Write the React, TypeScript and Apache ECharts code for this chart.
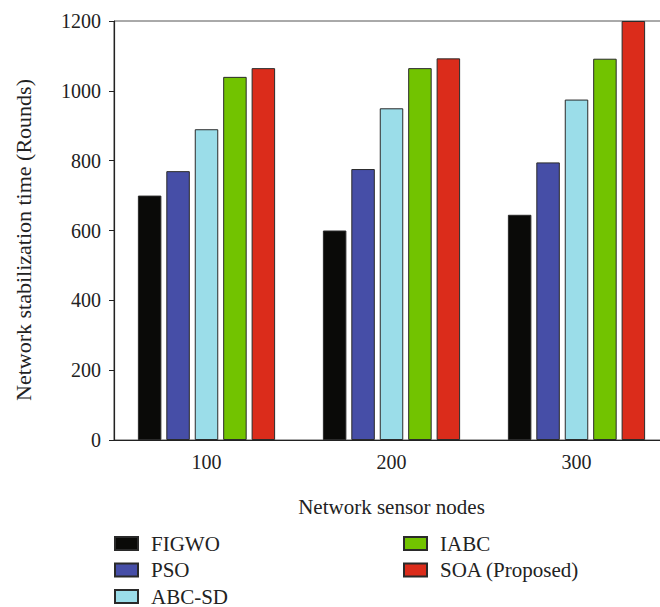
import React, { useEffect, useRef } from "react";
import * as echarts from "echarts";

const categories = ["100", "200", "300"];
const figwo = [700, 600, 645];
const pso = [770, 776, 795];
const abcSd = [890, 950, 975];
const iabc = [1040, 1065, 1092];
const soa = [1065, 1093, 1200];

const seriesNames = ["FIGWO", "PSO", "ABC-SD", "IABC", "SOA (Proposed)"];
const seriesColors = ["#0a0a08", "#464ea7", "#9bdde9", "#72c300", "#db2c1b"];
const seriesValues = [figwo, pso, abcSd, iabc, soa];

const FONT = "'Liberation Serif', 'DejaVu Serif', serif";

// The plot runs past the right edge of the visible frame, so the chart
// canvas is wider than the clipping wrapper.
const CHART_W = 690;
const CHART_H = 607;

export default function App() {
  const ref = useRef<HTMLDivElement>(null);

  useEffect(() => {
    if (!ref.current) return;
    const chart = echarts.init(ref.current, null, { renderer: "svg" });

    const legendBase = {
      orient: "vertical" as const,
      icon: "rect",
      padding: 0,
      itemWidth: 23,
      itemHeight: 13,
      itemGap: 5.5,
      height: 120,
      textStyle: {
        fontFamily: FONT,
        fontSize: 21,
        color: "#222",
        lineHeight: 20,
        padding: [0, 0, 0, 8],
      },
    };

    chart.setOption({
      animation: false,
      backgroundColor: "#ffffff",
      textStyle: { fontFamily: FONT },
      grid: {
        left: 114,
        top: 21,
        right: CHART_W - 669,
        bottom: 167,
        show: true,
        borderColor: "#555",
        borderWidth: 1,
        backgroundColor: "transparent",
      },
      legend: [
        { ...legendBase, left: 114, top: 533, data: seriesNames.slice(0, 3) },
        { ...legendBase, left: 403, top: 533, data: seriesNames.slice(3) },
      ],
      xAxis: {
        type: "category",
        data: categories,
        name: "Network sensor nodes",
        nameLocation: "middle",
        nameGap: 56,
        nameTextStyle: { fontFamily: FONT, fontSize: 21, color: "#222" },
        axisLine: { lineStyle: { color: "#222", width: 1.2 } },
        axisTick: { alignWithLabel: true, length: 5, lineStyle: { color: "#222" } },
        axisLabel: { fontFamily: FONT, fontSize: 20, color: "#222", margin: 12 },
      },
      yAxis: {
        type: "value",
        min: 0,
        max: 1200,
        interval: 200,
        axisLine: { show: true, lineStyle: { color: "#222", width: 1.2 } },
        axisTick: { show: true, length: 5, lineStyle: { color: "#222" } },
        axisLabel: {
          fontFamily: FONT,
          fontSize: 20,
          color: "#222",
          margin: 13,
          formatter: (v: number) => String(v),
        },
        splitLine: { show: false },
      },
      graphic: [
        {
          type: "text",
          x: 23,
          y: 240,
          rotation: Math.PI / 2,
          style: {
            text: "Network stabilization time (Rounds)",
            fontFamily: FONT,
            fontSize: 22,
            fill: "#222",
            align: "center",
            verticalAlign: "middle",
          },
        },
      ],
      series: seriesNames.map((name, i) => ({
        name,
        type: "bar",
        data: seriesValues[i],
        barWidth: 23.5,
        barGap: "21%",
        itemStyle: {
          color: seriesColors[i],
          borderColor: "#2a2a2a",
          borderWidth: 1,
        },
      })),
    });

    return () => chart.dispose();
  }, []);

  return (
    <div
      style={{
        position: "fixed",
        left: 0,
        top: 0,
        width: 660,
        height: 607,
        overflow: "hidden",
        background: "#fff",
      }}
    >
      <div ref={ref} style={{ width: CHART_W, height: CHART_H }} />
    </div>
  );
}
